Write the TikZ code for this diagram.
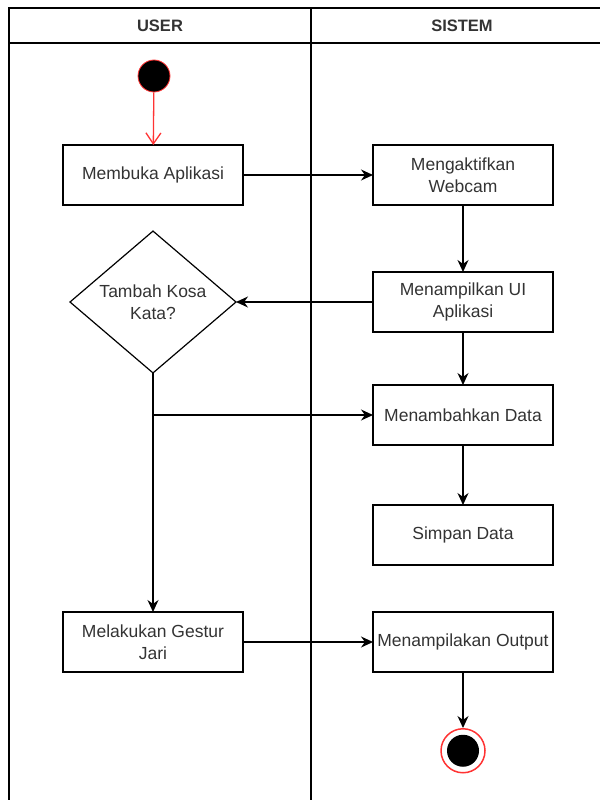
\documentclass[tikz,border=0pt]{standalone}
\usepackage{fontspec}
\setmainfont{Liberation Sans}
\usetikzlibrary{shapes.geometric, arrows.meta, positioning}

\definecolor{teks}{HTML}{333333}
\definecolor{merah}{HTML}{FF3333}

\begin{document}
\begin{tikzpicture}[
    x=1pt, y=-1pt,
    box/.style={rectangle, draw, line width=1.2pt, minimum width=180pt, minimum height=60pt,
      align=center, text=teks, font=\fontsize{17.5}{22}\selectfont, inner sep=1pt, outer sep=0pt},
    keputusan/.style={diamond, draw, line width=1.2pt, minimum width=166pt, minimum height=133pt,
      align=center, text=teks, font=\fontsize{17.5}{22}\selectfont, inner sep=0pt, outer sep=0pt},
    judul/.style={text=teks, font=\fontsize{16.5}{20}\selectfont\bfseries},
    arrow/.style={-{Stealth[length=12pt,width=11pt]}, line width=1.2pt},
    lane/.style={line width=1.5pt}
  ]
    \useasboundingbox (0,0) rectangle (600,800);
    % swimlanes
    \draw[lane] (9,800) -- (9,8) -- (600,8);
    \draw[lane] (9,43) -- (600,43);
    \draw[lane] (311,8) -- (311,800);
    \node[judul] (huser) at (160,26) {USER};
    \node[judul] (hsistem) at (462,26) {SISTEM};

    % nodes
    \node[circle, fill=black, draw=merah, line width=0.8pt, minimum size=32pt, inner sep=0pt] (mulai) at (154,76) {};
    \node[box] (buka) at (153,175) {Membuka Aplikasi};
    \node[box, right=130pt of buka] (webcam) {Mengaktifkan\\Webcam};
    \node[box, below=67pt of webcam] (ui) {Menampilkan UI\\Aplikasi};
    \node[keputusan, left=137pt of ui] (tambah) {Tambah Kosa\\Kata?};
    \node[box, below=53pt of ui] (data) {Menambahkan Data};
    \node[box, below=60pt of data] (simpan) {Simpan Data};
    \node[box, below=47pt of simpan] (output) {Menampilakan Output};
    \node[box, left=130pt of output] (gestur) {Melakukan Gestur\\Jari};
    \node[circle, draw=merah, fill=white, line width=1.5pt, minimum size=44pt, inner sep=0pt, below=56pt of output] (selesai) {};
    \node[circle, fill=black, minimum size=32pt, inner sep=0pt] (titik) at (selesai) {};

    % connectors
    \draw[-{Straight Barb[length=11pt,width=15pt]}, draw=merah, line width=1.3pt] (mulai) -- (buka);
    \draw[arrow] (buka) -- (webcam);
    \draw[arrow] (webcam) -- (ui);
    \draw[arrow] (ui) -- (tambah);
    \draw[arrow] (ui) -- (data);
    \draw[arrow] (data) -- (simpan);
    \coordinate (cabang) at (tambah.south |- data.west);
    \draw[arrow] (tambah.south) -- (gestur.north);
    \draw[arrow] (cabang) -- (data.west);
    \draw[arrow] (gestur) -- (output);
    \draw[arrow] (output) -- (selesai);
  \end{tikzpicture}
\end{document}
